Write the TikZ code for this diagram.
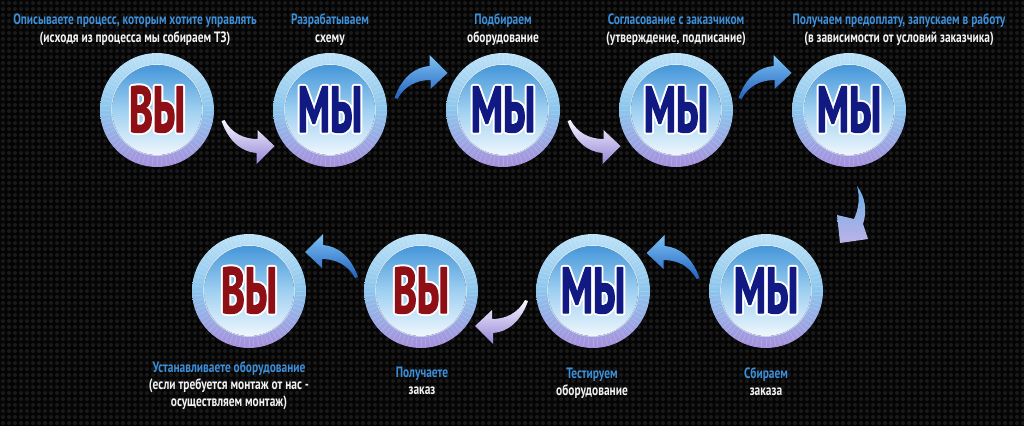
\documentclass[tikz,border=0pt]{standalone}
\usepackage{fontspec}
\usetikzlibrary{calc,patterns}
\newfontfamily\labfont[FakeStretch=0.76]{PT Sans}
\newfontfamily\bigfont[FakeStretch=0.62]{PT Sans}
\definecolor{bg}{HTML}{050505}
\definecolor{dotc}{HTML}{1A1A1A}
\definecolor{labblue}{HTML}{3C8FD8}
\definecolor{labwhite}{HTML}{F2F2F2}
\definecolor{ringtop}{HTML}{BCE2F7}
\definecolor{ringmid}{HTML}{8CC5EC}
\definecolor{ringbot}{HTML}{A78FDC}
\definecolor{disctop}{HTML}{4596DA}
\definecolor{discmid}{HTML}{9FD0F1}
\definecolor{discbot}{HTML}{EEF7FD}
\definecolor{vyred}{HTML}{8E1016}
\definecolor{mynavy}{HTML}{101A82}
\definecolor{arrblueT}{HTML}{7CC2F4}
\definecolor{arrblueB}{HTML}{2262BE}
\definecolor{arrwhT}{HTML}{F6F7FF}
\definecolor{arrwhB}{HTML}{9684D6}
\pgfdeclarepatternformonly{hexdots}{\pgfpoint{-1pt}{-1pt}}{\pgfpoint{7pt}{7pt}}{\pgfpoint{6pt}{6pt}}{\pgfpathcircle{\pgfpoint{3pt}{3pt}}{2pt}\pgfusepath{fill}}
% white outline (stroke only) under an emboldened coloured fill
\newcommand\outl[2]{\rlap{\color{#1}\special{pdf:literal direct 1 Tr 5 w 1 1 1 RG 1 j}#2\special{pdf:literal direct 0 Tr}}%
{\color{#1}\special{pdf:literal direct 2 Tr 1.1 w 1 j}#2\special{pdf:literal direct 0 Tr}}}
\tikzset{
  ring/.style={circle, inner sep=0pt, minimum size=114pt, shading=axis,
    top color=ringtop, bottom color=ringbot, middle color=ringmid},
  bigtxt/.style={anchor=base, inner sep=0pt, font=\bigfont\bfseries\fontsize{65}{65}\selectfont},
  lbl/.style={anchor=base, inner sep=0pt, font=\labfont\bfseries\fontsize{15}{17}\selectfont},
  blu/.style={lbl, text=labblue},
  wht/.style={lbl, text=labwhite},
  bluearrow/.pic={\shade[top color=arrblueT, bottom color=arrblueB]
    (0,0) .. controls (7,-20) and (20,-31) .. (35,-32) -- (35,-43) -- (53,-25)
    -- (36,-9) -- (36,-18) .. controls (22,-18) and (10,-12) .. (3,1) -- cycle;},
  whitearrow/.pic={\shade[top color=arrwhT, bottom color=arrwhB]
    (0,0) .. controls (7,-20) and (20,-31) .. (35,-32) -- (35,-43) -- (53,-25)
    -- (36,-9) -- (36,-18) .. controls (22,-18) and (10,-12) .. (3,1) -- cycle;}
}
\newcommand\disc[1]{%
  \fill[top color=disctop, bottom color=discbot, middle color=discmid] (#1) circle (45);
  \foreach \a in {0,5,...,355}{\draw[white, opacity=0.16, line width=0.8pt] ($(#1)+(\a:47)$) -- ($(#1)+(\a:56)$);}
  \draw[white, opacity=0.55, line width=0.8pt] (#1) circle (45.5);
}
\begin{document}
\begin{tikzpicture}[x=1pt, y=-1pt]
\useasboundingbox (0,0) rectangle (1024,426);
\fill[bg] (0,0) rectangle (1024,426);
\fill[pattern=hexdots, pattern color=dotc] (0,0) rectangle (1024,426);

% circles
\node[ring] (c1) at (157,110) {};
\node[ring] (c2) at (330,110) {};
\node[ring] (c3) at (503,110) {};
\node[ring] (c4) at (676,110) {};
\node[ring] (c5) at (849,110) {};
\node[ring] (c6) at (766,291) {};
\node[ring] (c7) at (593,291) {};
\node[ring] (c8) at (421,291) {};
\node[ring] (c9) at (249,291) {};
\disc{c1}\disc{c2}\disc{c3}\disc{c4}\disc{c5}\disc{c6}\disc{c7}\disc{c8}\disc{c9}

% big texts
\node[bigtxt] (t1) at ($(c1)+(0,22)$) {\outl{vyred}{ВЫ}};
\node[bigtxt] (t2) at ($(c2)+(0,22)$) {\outl{mynavy}{МЫ}};
\node[bigtxt] (t3) at ($(c3)+(0,22)$) {\outl{mynavy}{МЫ}};
\node[bigtxt] (t4) at ($(c4)+(0,22)$) {\outl{mynavy}{МЫ}};
\node[bigtxt] (t5) at ($(c5)+(0,22)$) {\outl{mynavy}{МЫ}};
\node[bigtxt] (t6) at ($(c6)+(0,22)$) {\outl{mynavy}{МЫ}};
\node[bigtxt] (t7) at ($(c7)+(0,22)$) {\outl{mynavy}{МЫ}};
\node[bigtxt] (t8) at ($(c8)+(0,22)$) {\outl{vyred}{ВЫ}};
\node[bigtxt] (t9) at ($(c9)+(0,22)$) {\outl{vyred}{ВЫ}};

% arrows
\pic[yscale=-1] at ($(c1)!0.5!(c2)+(-22,11)$) {whitearrow};
\pic at ($(c2)!0.5!(c3)+(-22,-12)$) {bluearrow};
\pic[yscale=-1] at ($(c3)!0.5!(c4)+(-22,11)$) {whitearrow};
\pic at ($(c4)!0.5!(c5)+(-24,-12)$) {bluearrow};
\shade[top color=arrblueT!80!arrblueB, bottom color=arrwhB!60!arrwhT, shift={(c5.center)}]
  (8,76) .. controls (17,88) and (18,102) .. (14,114) -- (19,129) -- (-9,133)
  -- (-12,105) -- (5,109) .. controls (10,98) and (11,87) .. (8,76) -- cycle;
\pic[xscale=-1] at ($(c6)!0.5!(c7)+(20,-13)$) {bluearrow};
\pic[xscale=-1, yscale=-1] at ($(c7)!0.5!(c8)+(21,10)$) {whitearrow};
\pic[xscale=-1] at ($(c8)!0.5!(c9)+(23,-14)$) {bluearrow};

% labels top
\node[blu] (l1a) at (135,24) {Описываете процесс, которым хотите управлять};
\node[wht] (l1b) at (135,42) {(исходя из процесса мы собираем ТЗ)};
\node[blu] (l2a) at (330,24) {Разрабатываем};
\node[wht] (l2b) at (330,42) {схему};
\node[blu] (l3a) at (503,24) {Подбираем};
\node[wht] (l3b) at (503,42) {оборудование};
\node[blu] (l4a) at (676,24) {Согласование с заказчиком};
\node[wht] (l4b) at (676,42) {(утверждение, подписание)};
\node[blu] (l5a) at (899,24) {Получаем предоплату, запускаем в работу};
\node[wht] (l5b) at (899,42) {(в зависимости от условий заказчика)};
% labels bottom
\node[blu] (l6a) at (766,378) {Сбираем};
\node[wht] (l6b) at (766,395) {заказа};
\node[blu] (l7a) at (592,378) {Тестируем};
\node[wht] (l7b) at (592,395) {оборудование};
\node[blu] (l8a) at (422,377) {Получаете};
\node[wht] (l8b) at (422,394) {заказ};
\node[blu] (l9a) at (229,372) {Устанавливаете оборудование};
\node[wht] (l9b) at (229,389) {(если требуется монтаж от нас -};
\node[wht] (l9c) at (229,406) {осуществляем монтаж)};
\end{tikzpicture}
\end{document}
